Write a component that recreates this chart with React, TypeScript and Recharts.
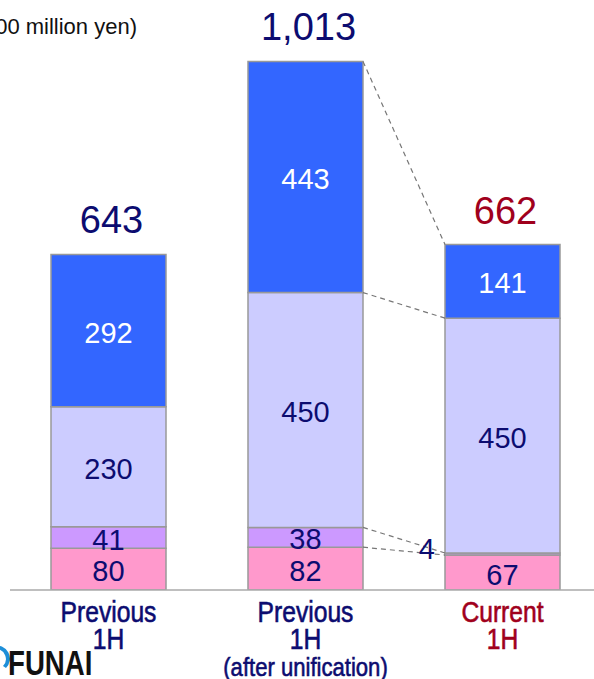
import { Bar, BarChart, LabelList, ReferenceLine, XAxis, YAxis } from 'recharts'

const categories = ['Previous\n1H', 'Previous\n1H\n(after unification)', 'Current\n1H']
const pinkValues = [80, 82, 67]
const purpleValues = [41, 38, 4]
const lavenderValues = [230, 450, 450]
const blueValues = [292, 443, 141]
const totals = [643, 1013, 662]

const NAVY = '#0c0c70'
const RED = '#a0001c'
const labelColors = [NAVY, NAVY, RED]

const data = categories.map((name, i) => ({
  name,
  pink: pinkValues[i],
  purple: purpleValues[i],
  lavender: lavenderValues[i],
  blue: blueValues[i],
  total: totals[i],
}))

// bar layout: 3 bands of 197px, 41px gap each side of a bar
const PLOT_W = 591
const GAP = 41
const band = PLOT_W / categories.length
const rightEdge = (i: number) => i + (band - GAP) / band
const leftEdge = (i: number) => i + GAP / band

// running sums for the dashed connectors between the 2nd and 3rd bar
const cum = (i: number, upto: number) =>
  [pinkValues[i], purpleValues[i], lavenderValues[i], blueValues[i]].slice(0, upto).reduce((a, b) => a + b, 0)
const connectors = [4, 3, 2, 1].map((k) => [
  { x: rightEdge(1), y: cum(1, k) },
  { x: leftEdge(2), y: cum(2, k) },
])

const numFont = "'Liberation Sans', Arial, sans-serif"

const makeInside = (fill: string, sideIndex?: number) => (props: any) => {
  const { x, y, width, height, value, index } = props
  if (index === sideIndex) {
    return (
      <text x={x - 10} y={y + height / 2 - 5} textAnchor="end" dominantBaseline="central" fill={NAVY} fontSize={29} fontFamily={numFont}>
        {value}
      </text>
    )
  }
  return (
    <text x={x + width / 2} y={y + height / 2 + 2} textAnchor="middle" dominantBaseline="central" fill={fill} fontSize={29} fontFamily={numFont}>
      {value}
    </text>
  )
}

const renderTotal = (props: any) => {
  const { x, y, width, value, index } = props
  return (
    <text x={x + width / 2 + 3} y={y - 21} textAnchor="middle" fill={labelColors[index]} fontSize={38} fontFamily={numFont}>
      {Number(value).toLocaleString('en-US')}
    </text>
  )
}

// condensed look: squeeze the sans font horizontally
const CategoryTick = (props: any) => {
  const { x, y, payload, index } = props
  const lines = String(payload.value).split('\n')
  const color = labelColors[index]
  return (
    <g transform={`translate(${x},${y}) scale(0.85,1)`}>
      <text x={0} y={0} textAnchor="middle" fill={color} stroke={color} strokeWidth={0.6} fontSize={29} fontFamily={numFont}>
        {lines.map((line, i) => (
          <tspan key={i} x={0} y={32 + i * 27} fontSize={i === 2 ? 26 : 29}>
            {line}
          </tspan>
        ))}
      </text>
    </g>
  )
}

export default function App() {
  const barStroke = { stroke: '#999999', strokeWidth: 1.5 }
  return (
    <div style={{ position: 'absolute', left: 0, top: 0, width: 594, height: 679, overflow: 'hidden', background: '#fff' }}>
      <BarChart width={610} height={679} data={data} margin={{ top: 16, right: 9, bottom: 0, left: 10 }} barCategoryGap={GAP}>
        <XAxis
          dataKey="name"
          height={89}
          tickLine={false}
          tickSize={0}
          tickMargin={0}
          axisLine={{ stroke: '#aaaaaa', strokeWidth: 1.5 }}
          tick={<CategoryTick />}
          interval={0}
        />
        <XAxis xAxisId="link" dataKey="total" type="number" domain={[0, 3]} allowDataOverflow hide />
        <YAxis hide domain={[0, 1100]} allowDataOverflow />
        <Bar dataKey="pink" stackId="a" fill="#ff99cc" {...barStroke} isAnimationActive={false}>
          <LabelList dataKey="pink" content={makeInside(NAVY)} />
        </Bar>
        <Bar dataKey="purple" stackId="a" fill="#cc99ff" {...barStroke} isAnimationActive={false}>
          <LabelList dataKey="purple" content={makeInside(NAVY, 2)} />
        </Bar>
        <Bar dataKey="lavender" stackId="a" fill="#ccccff" {...barStroke} isAnimationActive={false}>
          <LabelList dataKey="lavender" content={makeInside(NAVY)} />
        </Bar>
        <Bar dataKey="blue" stackId="a" fill="#3366ff" {...barStroke} isAnimationActive={false}>
          <LabelList dataKey="blue" content={makeInside('#ffffff')} />
          <LabelList dataKey="total" content={renderTotal} />
        </Bar>
        {connectors.map((seg, i) => (
          <ReferenceLine
            key={i}
            xAxisId="link"
            segment={seg}
            stroke="#777777"
            strokeWidth={1.2}
            strokeDasharray="5 4"
            ifOverflow="visible"
          />
        ))}
      </BarChart>
      <svg width={594} height={679} style={{ position: 'absolute', left: 0, top: 0, pointerEvents: 'none' }}>
        <text x={137} y={34} textAnchor="end" fontSize={22} fontFamily={numFont} fill="#111">
          (Unit: 100 million yen)
        </text>
        <path d="M -6 646 A 13 13 0 0 1 6 668 L 3 666 A 10 10 0 0 0 -4 649 Z" fill="#1e8fd8" />
        <g transform="translate(8,675) scale(0.79,1)">
          <text x={0} y={0} fontSize={35} fontWeight="bold" fontFamily={numFont} fill="#111">
            FUNAI
          </text>
        </g>
      </svg>
    </div>
  )
}
